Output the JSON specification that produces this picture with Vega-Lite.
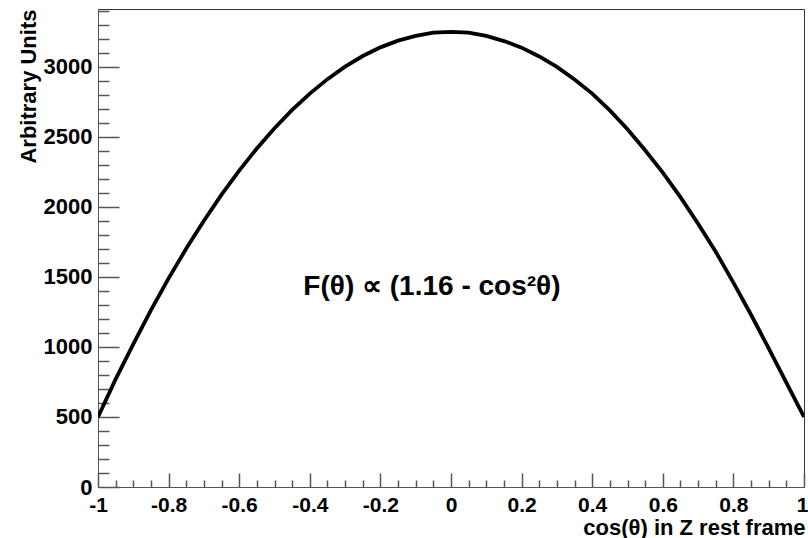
{
  "$schema": "https://vega.github.io/schema/vega-lite/v6.json",
  "width": 706,
  "height": 478,
  "autosize": {"type": "none"},
  "padding": {"left": 98, "top": 9, "right": 4, "bottom": 51},
  "background": "white",
  "config": {
    "view": {"stroke": "#333", "strokeWidth": 1},
    "font": "Liberation Sans",
    "axis": {"grid": false, "labelFont": "Liberation Sans", "titleFont": "Liberation Sans", "labelColor": "black", "titleColor": "black", "domainColor": "#555", "tickColor": "#555"}
  },
  "resolve": {"axis": {"x": "independent", "y": "independent"}},
  "datasets": {
    "curve": [
      {"c": -1.0, "v": 500}, {"c": -0.95, "v": 770}, {"c": -0.9, "v": 1020}, {"c": -0.85, "v": 1263},
      {"c": -0.8, "v": 1490}, {"c": -0.75, "v": 1703}, {"c": -0.7, "v": 1902}, {"c": -0.65, "v": 2088},
      {"c": -0.6, "v": 2260}, {"c": -0.55, "v": 2418}, {"c": -0.5, "v": 2562}, {"c": -0.45, "v": 2693},
      {"c": -0.4, "v": 2810}, {"c": -0.35, "v": 2913}, {"c": -0.3, "v": 3002}, {"c": -0.25, "v": 3078},
      {"c": -0.2, "v": 3140}, {"c": -0.15, "v": 3188}, {"c": -0.1, "v": 3222}, {"c": -0.05, "v": 3245},
      {"c": 0.0, "v": 3250}, {"c": 0.05, "v": 3245}, {"c": 0.1, "v": 3222}, {"c": 0.15, "v": 3185},
      {"c": 0.2, "v": 3138}, {"c": 0.25, "v": 3075}, {"c": 0.3, "v": 3000}, {"c": 0.35, "v": 2910},
      {"c": 0.4, "v": 2810}, {"c": 0.45, "v": 2690}, {"c": 0.5, "v": 2555}, {"c": 0.55, "v": 2405},
      {"c": 0.6, "v": 2245}, {"c": 0.65, "v": 2070}, {"c": 0.7, "v": 1880}, {"c": 0.75, "v": 1680},
      {"c": 0.8, "v": 1460}, {"c": 0.85, "v": 1230}, {"c": 0.9, "v": 990}, {"c": 0.95, "v": 745},
      {"c": 1.0, "v": 500}
    ],
    "label": [{"c": -0.054, "v": 1429, "t": "F(θ) ∝ (1.16 - cos²θ)"}]
  },
  "layer": [
    {
      "data": {"name": "curve"},
      "mark": {"type": "line", "color": "black", "strokeWidth": 3.8, "clip": true},
      "encoding": {
        "x": {"field": "c", "type": "quantitative", "scale": {"domain": [-1, 1], "nice": false, "zero": false},
          "axis": {"orient": "bottom", "values": [-1, -0.8, -0.6, -0.4, -0.2, 0, 0.2, 0.4, 0.6, 0.8, 1], "ticks": false, "tickSize": 0,
            "labelFontSize": 21, "labelFontWeight": "bold", "labelPadding": 7, "labelFlush": false, "labelOverlap": false,
            "labelAlign": {"condition": {"test": "datum.value == 1", "value": "right"}, "value": "center"},
            "labelOffset": {"condition": {"test": "datum.value == 1", "value": 4}, "value": 0},
            "labelExpr": "'' + datum.value",
            "title": "cos(θ) in Z rest frame", "titleFontSize": 22, "titleFontWeight": "bold",
            "titleAnchor": "end", "titleAlign": "right", "titleBaseline": "alphabetic", "titleX": 707, "titleY": 47,
            "domainColor": "#555", "domainWidth": 1}},
        "y": {"field": "v", "type": "quantitative", "scale": {"domain": [0, 3414], "nice": false},
          "axis": {"orient": "left", "values": [0, 500, 1000, 1500, 2000, 2500, 3000], "ticks": false, "tickSize": 0,
            "labelFontSize": 22, "labelFontWeight": "bold", "labelPadding": 6, "labelFlush": false, "labelOverlap": false,
            "format": "d",
            "title": "Arbitrary Units", "titleFontSize": 22, "titleFontWeight": "bold", "titleAngle": -90,
            "titleAnchor": "end", "titleAlign": "right", "titleBaseline": "alphabetic", "titleX": -63, "titleY": 0}}
      }
    },
    {
      "data": {"name": "label"},
      "mark": {"type": "text", "fontSize": 28, "fontWeight": "bold", "font": "Liberation Sans", "color": "black", "align": "center", "baseline": "middle"},
      "encoding": {
        "x": {"field": "c", "type": "quantitative",
          "axis": {"orient": "bottom", "values": [-1, -0.8, -0.6, -0.4, -0.2, 0, 0.2, 0.4, 0.6, 0.8, 1], "labels": false, "domain": false, "title": null, "tickSize": -14, "tickColor": "#555", "tickWidth": 1.5}},
        "y": {"field": "v", "type": "quantitative",
          "axis": {"orient": "left", "values": [0, 500, 1000, 1500, 2000, 2500, 3000], "labels": false, "domain": false, "title": null, "tickSize": -21, "tickColor": "#555", "tickWidth": 1.5}},
        "text": {"field": "t"}
      }
    },
    {
      "data": {"name": "curve"},
      "mark": {"type": "line", "opacity": 0},
      "encoding": {
        "x": {"field": "c", "type": "quantitative",
          "axis": {"orient": "bottom", "values": [-0.95, -0.9, -0.85, -0.75, -0.7, -0.65, -0.55, -0.5, -0.45, -0.35, -0.3, -0.25, -0.15, -0.1, -0.05, 0.05, 0.1, 0.15, 0.25, 0.3, 0.35, 0.45, 0.5, 0.55, 0.65, 0.7, 0.75, 0.85, 0.9, 0.95], "labels": false, "domain": false, "title": null, "tickSize": -7, "tickColor": "#555", "tickWidth": 1.5}},
        "y": {"field": "v", "type": "quantitative",
          "axis": {"orient": "left", "values": [100, 200, 300, 400, 600, 700, 800, 900, 1100, 1200, 1300, 1400, 1600, 1700, 1800, 1900, 2100, 2200, 2300, 2400, 2600, 2700, 2800, 2900, 3100, 3200, 3300, 3400], "labels": false, "domain": false, "title": null, "tickSize": -11, "tickColor": "#555", "tickWidth": 1.5}}
      }
    }
  ]
}
